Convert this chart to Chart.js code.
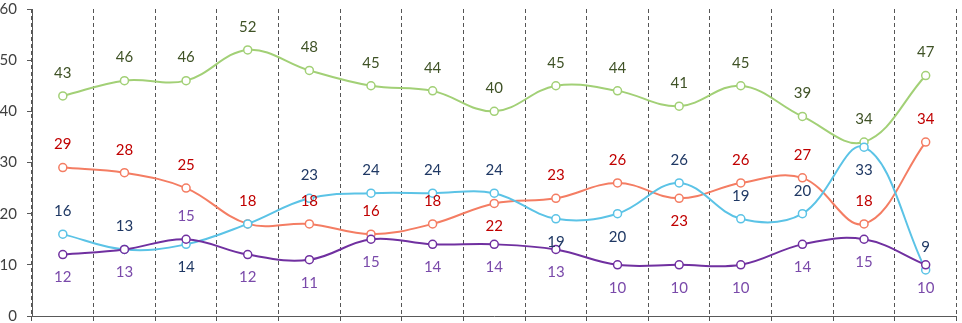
<!DOCTYPE html>
<html>
<head>
<meta charset="utf-8">
<script src="https://cdn.jsdelivr.net/npm/chart.js@4.4.1/dist/chart.umd.min.js"></script>
<style>
  html, body { margin: 0; padding: 0; background: #fff; }
  #wrap { width: 962px; height: 323px; position: relative; }
</style>
</head>
<body>
<div id="wrap"><canvas id="chart"></canvas></div>
<script>
// chart data
const categories = ["1", "2", "3", "4", "5", "6", "7", "8", "9", "10", "11", "12", "13", "14", "15"];
const greenValues  = [43, 46, 46, 52, 48, 45, 44, 40, 45, 44, 41, 45, 39, 34, 47];
const redValues    = [29, 28, 25, 18, 18, 16, 18, 22, 23, 26, 23, 26, 27, 18, 34];
const cyanValues   = [16, 13, 14, 18, 23, 24, 24, 24, 19, 20, 26, 19, 20, 33, 9];
const purpleValues = [12, 13, 15, 12, 11, 15, 14, 14, 13, 10, 10, 10, 14, 15, 10];
const yTicks = [0, 10, 20, 30, 40, 50, 60];

// where each value label sits: 1 = above, -1 = below, 0 = hidden
const greenSide  = [1, 1, 1, 1, 1, 1, 1, 1, 1, 1, 1, 1, 1, 1, 1];
const redSide    = [1, 1, 1, 1, 1, 1, 1, -1, 1, 1, -1, 1, 1, 1, 1];
const cyanSide   = [1, 1, -1, 0, 1, 1, 1, 1, -1, -1, 1, 1, 1, -1, 1];
const purpleSide = [-1, -1, 1, -1, -1, -1, -1, -1, -1, -1, -1, -1, -1, -1, -1];

const FONT = "Lato, 'Open Sans', sans-serif";

function series(values, line, labelColor, side) {
  return {
    data: values,
    borderColor: line,
    backgroundColor: "#fff",
    borderWidth: 2,
    pointRadius: 4,
    pointBorderWidth: 1.5,
    pointBackgroundColor: "#fff",
    pointBorderColor: line,
    tension: 0.38,
    labelColor: labelColor,
    labelSide: side
  };
}

// simple value labels drawn next to each point
const valueLabels = {
  id: "valueLabels",
  afterDatasetsDraw(chart) {
    const ctx = chart.ctx;
    ctx.save();
    ctx.font = "15px " + FONT;
    ctx.textAlign = "center";
    ctx.textBaseline = "middle";
    chart.data.datasets.forEach((ds, di) => {
      const meta = chart.getDatasetMeta(di);
      meta.data.forEach((pt, i) => {
        const side = ds.labelSide[i];
        if (!side) return;
        ctx.fillStyle = ds.labelColor;
        ctx.fillText(String(ds.data[i]), pt.x, pt.y - side * 23);
      });
    });
    ctx.restore();
  }
};

new Chart(document.getElementById("chart"), {
  type: "line",
  data: {
    labels: categories,
    datasets: [
      series(purpleValues, "#7030a0", "#7a4aaa", purpleSide),
      series(cyanValues, "#5bc3e6", "#1f3864", cyanSide),
      series(redValues, "#f47d63", "#c00000", redSide),
      series(greenValues, "#a2d076", "#3f5226", greenSide)
    ]
  },
  options: {
    responsive: true,
    maintainAspectRatio: false,
    animation: false,
    layout: { padding: { top: 9, right: 2, left: 0, bottom: 0 } },
    plugins: { legend: { display: false }, tooltip: { enabled: false } },
    scales: {
      x: {
        offset: true,
        grid: {
          offset: true,
          color: "#555",
          lineWidth: 1,
          tickLength: 7,
          tickColor: "#555",
          tickBorderDash: [4, 3]
        },
        border: { display: true, color: "#595959", width: 1, dash: [4, 3] },
        ticks: { display: false },
        afterFit(scale) {
          scale.height = 7;
          scale.paddingLeft = 0;
          scale.paddingRight = 0;
        }
      },
      y: {
        min: 0,
        max: 60,
        afterBuildTicks(scale) { scale.ticks = yTicks.map(v => ({ value: v })); },
        grid: { drawOnChartArea: false, tickLength: 5, color: "#595959" },
        border: { display: true, color: "#595959", width: 1 },
        ticks: { color: "#404040", padding: 10, font: { family: FONT, size: 15 } },
        afterFit(scale) {
          scale.width = 32;
          scale.paddingTop = 0;
          scale.paddingBottom = 0;
        }
      }
    }
  },
  plugins: [valueLabels]
});
</script>
</body>
</html>
